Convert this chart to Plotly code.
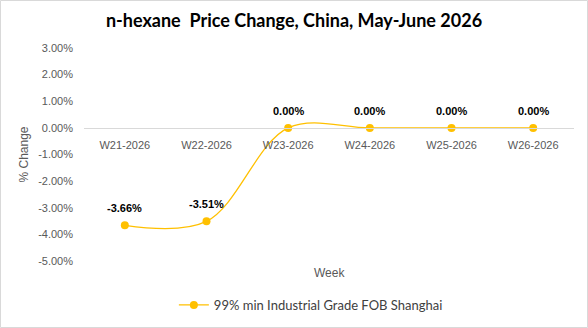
import plotly.graph_objects as go

weeks = ["W21-2026", "W22-2026", "W23-2026", "W24-2026", "W25-2026", "W26-2026"]
changes = [-3.66, -3.51, 0.00, 0.00, 0.00, 0.00]
labels = ["-3.66%", "-3.51%", "0.00%", "0.00%", "0.00%", "0.00%"]
series_name = "99% min Industrial Grade FOB Shanghai"
y_ticks = [3, 2, 1, 0, -1, -2, -3, -4, -5]
y_ticktext = [f"{v:.2f}%" for v in y_ticks]

W, H = 588, 328
ml, mr, mt, mb = 84, 14, 48, 67
pw, ph = W - ml - mr, H - mt - mb

fig = go.Figure()
fig.add_trace(go.Scatter(
    x=weeks, y=changes, mode="lines+markers", name=series_name,
    line=dict(color="#FFC000", width=1.3, shape="spline", smoothing=1.0),
    marker=dict(color="#FFC000", size=8),
    cliponaxis=False,
))
for w, v, t in zip(weeks, changes, labels):
    fig.add_annotation(x=w, y=v, text=f"<b>{t}</b>", showarrow=False,
                       yshift=17, font=dict(size=11, color="#000000", family="Liberation Sans"))

fig.add_annotation(text="Week", xref="paper", yref="paper", x=0.5, y=-(273 - 261) / ph,
                   yanchor="middle",
                   showarrow=False, font=dict(size=12, color="#595959", family="Liberation Sans"))

fig.add_shape(type="rect", xref="paper", yref="paper",
              x0=-(ml - 0.5) / pw, x1=1 + (mr - 0.5) / pw,
              y0=-(mb - 0.5) / ph, y1=1 + (mt - 0.5) / ph,
              line=dict(color="#D9D9D9", width=1), layer="below")

fig.update_layout(
    width=W, height=H,
    margin=dict(l=ml, r=mr, t=mt, b=mb, autoexpand=False),
    paper_bgcolor="white", plot_bgcolor="white",
    title=dict(text="<b>n-hexane  Price Change, China, May-June 2026</b>",
               x=0.5, xref="container", xanchor="center", y=1 - 21 / H, yanchor="middle",
               font=dict(size=18, color="#000000", family="Lato")),
    xaxis=dict(type="category", anchor="free", position=5 / 8,
               showline=True, linecolor="#D9D9D9", linewidth=1,
               showgrid=False, zeroline=False, ticks="",
               ticklabelstandoff=7,
               tickfont=dict(size=11, color="#595959", family="Liberation Sans"),
               range=[-0.5, 5.5]),
    yaxis=dict(range=[-5, 3], tickvals=y_ticks, ticktext=y_ticktext,
               showgrid=False, zeroline=False, showline=False, ticks="",
               ticklabelstandoff=10,
               tickfont=dict(size=11, color="#595959", family="Liberation Sans"),
               title=dict(text="% Change", standoff=6,
                          font=dict(size=12, color="#595959", family="Liberation Sans"))),
    legend=dict(orientation="h", x=0.463, xanchor="center", y=-(305 - 261) / ph, yanchor="middle",
                font=dict(size=13, color="#404040", family="Lato")),
    showlegend=True,
)

fig.write_html("out.html")
